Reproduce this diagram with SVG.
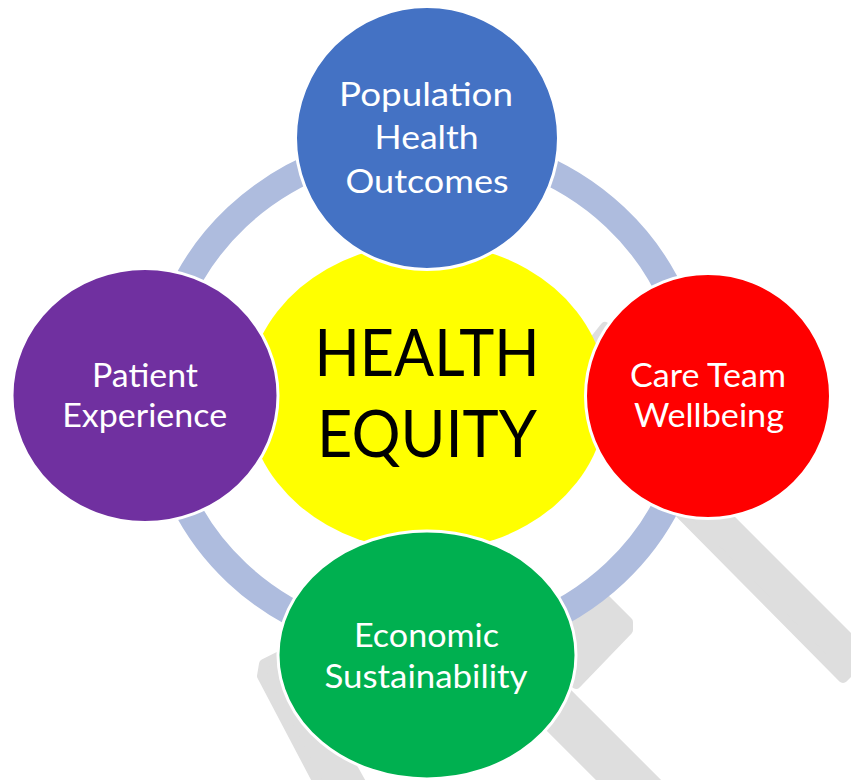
<svg xmlns="http://www.w3.org/2000/svg" width="851" height="780" viewBox="0 0 851 780">
  <style>
    .shade { fill: #DEDEDE; stroke: #DEDEDE; stroke-width: 10; stroke-linejoin: round; }
    .ring { fill: none; stroke: #AEBCDE; stroke-width: 27; }
    .node { stroke: #FFFFFF; stroke-width: 3; }
    .label { font-family: Lato, "Open Sans", "Liberation Sans", sans-serif; font-size: 33px; fill: #FFFFFF; text-anchor: middle; }
    .title { font-family: Lato, "Open Sans", "Liberation Sans", sans-serif; font-size: 65px; fill: #000000; text-anchor: middle; }
  </style>

  <rect x="0" y="0" width="851" height="780" fill="#FFFFFF"/>

  <!-- grey backdrop bars behind the ring -->
  <g id="backdrop">
    <polygon class="shade" points="605,327 640,350 600,380 585,352"/>
    <polygon class="shade" points="645,434 866,655 843,678 645,478"/>
    <polygon class="shade" points="598,592 628,622 628,630 576,684 552,652"/>
    <polygon class="shade" points="542,668 725,851 685,862 522,699"/>
    <polygon class="shade" points="264,664 288,652 365,790 322,790 262,676"/>
  </g>

  <!-- ring linking the outer nodes -->
  <g id="connectors">
    <ellipse class="ring" cx="426" cy="395" rx="267.5" ry="251.5"/>
  </g>

  <g id="health-equity">
    <ellipse cx="427" cy="397" rx="180" ry="154" fill="#FFFF00"/>
    <text class="title" x="427" y="376" textLength="225" lengthAdjust="spacingAndGlyphs">HEALTH</text>
    <text class="title" x="427" y="457" textLength="220" lengthAdjust="spacingAndGlyphs">EQUITY</text>
  </g>

  <g id="population-health-outcomes">
    <circle class="node" cx="427" cy="138" r="131.5" fill="#4472C4"/>
    <text class="label" x="426" y="106" textLength="174" lengthAdjust="spacingAndGlyphs">Population</text>
    <text class="label" x="426.6" y="149" textLength="104" lengthAdjust="spacingAndGlyphs">Health</text>
    <text class="label" x="427" y="193" textLength="163" lengthAdjust="spacingAndGlyphs">Outcomes</text>
  </g>

  <g id="patient-experience">
    <ellipse class="node" cx="145" cy="395.5" rx="133" ry="127" fill="#7030A0"/>
    <text class="label" x="145" y="387" textLength="106" lengthAdjust="spacingAndGlyphs">Patient</text>
    <text class="label" x="144.7" y="427" textLength="165" lengthAdjust="spacingAndGlyphs">Experience</text>
  </g>

  <g id="care-team-wellbeing">
    <circle class="node" cx="708" cy="396" r="122.5" fill="#FF0000"/>
    <text class="label" x="708" y="387" textLength="156" lengthAdjust="spacingAndGlyphs">Care Team</text>
    <text class="label" x="709" y="427" textLength="150" lengthAdjust="spacingAndGlyphs">Wellbeing</text>
  </g>

  <g id="economic-sustainability">
    <ellipse class="node" cx="427" cy="655" rx="149" ry="124" fill="#00B050"/>
    <text class="label" x="426.5" y="647" textLength="145" lengthAdjust="spacingAndGlyphs">Economic</text>
    <text class="label" x="426" y="688" textLength="203" lengthAdjust="spacingAndGlyphs">Sustainability</text>
  </g>
</svg>
